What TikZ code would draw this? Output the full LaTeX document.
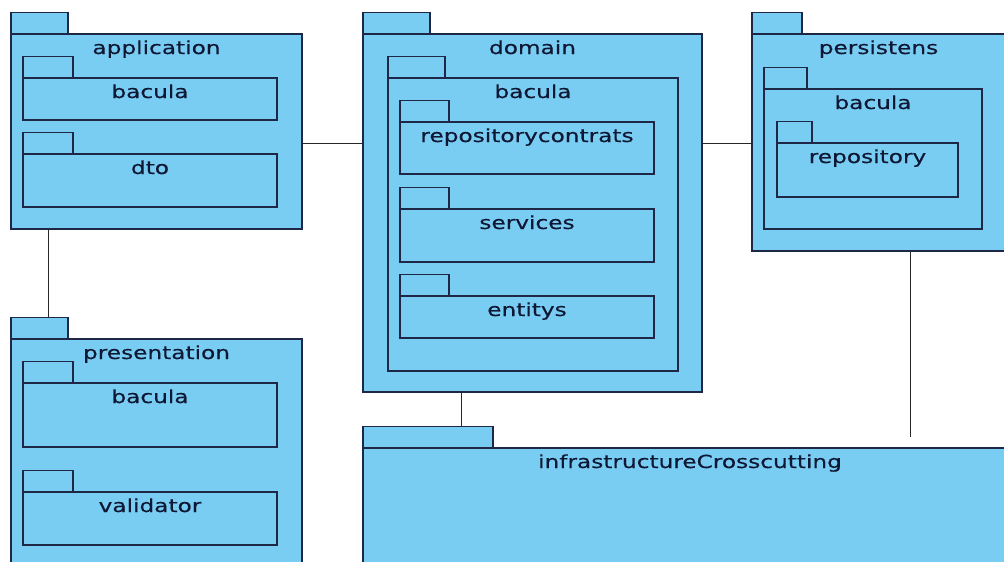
\documentclass[tikz,border=0pt]{standalone}
\usepackage{fontspec}
\newfontfamily\pkgfont{DejaVu Sans}[FakeStretch=1.29, FakeBold=0.5]
\definecolor{pkgfill}{RGB}{122,205,242}
\definecolor{pkgline}{RGB}{30,40,70}
\definecolor{pkgtext}{RGB}{14,24,52}

\begin{document}
\begin{tikzpicture}[
        x=1pt, y=-1pt,
        body/.style={rectangle, fill=pkgfill, draw=pkgline, line width=1.3pt, anchor=north west, inner sep=0pt, outer sep=0pt},
        tab/.style={rectangle, fill=pkgfill, draw=pkgline, line width=1.3pt, anchor=south west, minimum height=21.5pt, inner sep=0pt, outer sep=0pt},
        title/.style={anchor=base, text=pkgtext, font=\pkgfont\fontsize{18}{18}\selectfont, inner sep=0pt},
        link/.style={draw=black!85, line width=1pt}]

      \useasboundingbox (0,0) rectangle (1004,562);

      % packages: name/left/top/width/height/tab width/label
      \foreach \n/\x/\y/\w/\h/\tw/\lbl in {
          app/11/34/291/195/57/application,
          appbac/23/78/254/42/50/bacula,
          appdto/23/154/254/53/50/dto,
          pres/11/339/291/240/57/presentation,
          presbac/23/383/254/64/50/bacula,
          presval/23/492/254/53/50/validator,
          dom/363/34/339/358/67/domain,
          dombac/388/78/290/293/57/bacula,
          domrep/400/122/254/52/49/repositorycontrats,
          domsrv/400/209/254/53/49/services,
          doment/400/296/254/42/49/entitys,
          pers/752/34/253/217/50/persistens,
          persbac/764/89/218/140/43/bacula,
          persrep/777/143/181/54/35/repository,
          infra/363/448/654/130/130/infrastructureCrosscutting}
      {
        \node[body, minimum width=\w pt, minimum height=\h pt] (\n) at (\x,\y) {};
        \node[tab, minimum width=\tw pt] (\n-tab) at (\n.north west) {};
        \node[title] (\n-title) at ([yshift=-20pt]\n.north) {\lbl};
      }

      \coordinate (lvl) at (0,143);
      \coordinate (persend) at (910,437);
      \foreach \a/\b in {app/dom, dom/pers}
        \draw[link] (\a.east |- lvl) -- (\b.west |- lvl);
      \draw[link] ([xshift=37pt]app.south west) -- ([xshift=37pt]pres-tab.north west);
      \draw[link] ([xshift=98pt]dom.south west) -- ([xshift=98pt]infra-tab.north west);
      \draw[link] (pers.south -| persend) -- (persend);

    \end{tikzpicture}
\end{document}
